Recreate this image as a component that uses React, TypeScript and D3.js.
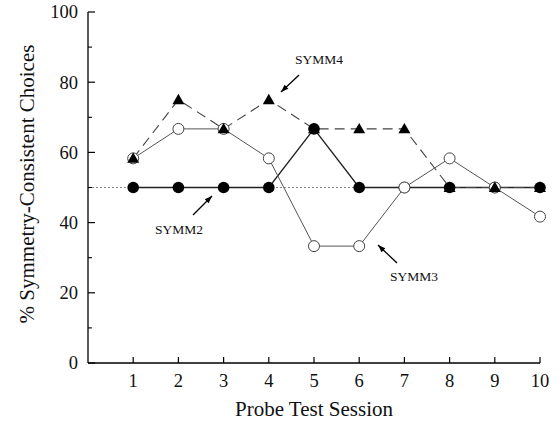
import React from "react";
import * as d3 from "d3";

const sessions = [1, 2, 3, 4, 5, 6, 7, 8, 9, 10];
const symm2 = [50, 50, 50, 50, 66.7, 50, 50, 50, 50, 50];
const symm3 = [58.3, 66.7, 66.7, 58.3, 33.3, 33.3, 50, 58.3, 50, 41.7];
const symm4 = [58.3, 75, 66.7, 75, 66.7, 66.7, 66.7, 50, 50, 50];
const yTicks = [0, 20, 40, 60, 80, 100];
const yMinorTicks = [10, 30, 50, 70, 90];

const W = 560;
const H = 423;
const FONT = "'Liberation Serif', 'DejaVu Serif', serif";

export default function App() {
  const x = d3.scaleLinear().domain([0, 10]).range([88, 540]);
  const y = d3.scaleLinear().domain([0, 100]).range([363, 12]);

  const line = d3
    .line<number>()
    .x((_, i) => x(sessions[i]))
    .y((d) => y(d));

  const tri = d3.symbol().type(d3.symbolTriangle).size(62)() as string;

  const arrow = (x1: number, y1: number, x2: number, y2: number) => {
    const ang = Math.atan2(y2 - y1, x2 - x1);
    const len = 8;
    const spread = 0.35;
    const ax = x2 - len * Math.cos(ang - spread);
    const ay = y2 - len * Math.sin(ang - spread);
    const bx = x2 - len * Math.cos(ang + spread);
    const by = y2 - len * Math.sin(ang + spread);
    return (
      <g>
        <line x1={x1} y1={y1} x2={x2} y2={y2} stroke="#000" strokeWidth={1.3} />
        <path d={`M${x2},${y2}L${ax},${ay}L${bx},${by}Z`} fill="#000" />
      </g>
    );
  };

  return (
    <svg
      width={W}
      height={H}
      style={{ position: "absolute", left: 0, top: 0, background: "#fff" }}
      fontFamily={FONT}
    >
      {/* chance reference line */}
      <line
        x1={x(0)}
        x2={x(10)}
        y1={y(50)}
        y2={y(50)}
        stroke="#888"
        strokeWidth={1}
        strokeDasharray="2,2"
      />

      {/* axes */}
      <line x1={x(0)} x2={x(0)} y1={y(0)} y2={y(100)} stroke="#000" strokeWidth={1.3} />
      <line x1={x(0)} x2={x(10)} y1={y(0)} y2={y(0)} stroke="#000" strokeWidth={1.3} />
      {yTicks.map((t) => (
        <g key={`yt${t}`}>
          <line x1={x(0)} x2={x(0) + 7} y1={y(t)} y2={y(t)} stroke="#000" strokeWidth={1.2} />
          <text
            x={x(0) - 10}
            y={y(t)}
            dy="0.35em"
            textAnchor="end"
            fontSize={18.5}
            fill="#111"
          >
            {t}
          </text>
        </g>
      ))}
      {yMinorTicks.map((t) => (
        <line
          key={`ym${t}`}
          x1={x(0)}
          x2={x(0) + 4}
          y1={y(t)}
          y2={y(t)}
          stroke="#000"
          strokeWidth={1.1}
        />
      ))}
      {sessions.map((s) => (
        <g key={`xt${s}`}>
          <line x1={x(s)} x2={x(s)} y1={y(0)} y2={y(0) - 6} stroke="#000" strokeWidth={1.2} />
          <text x={x(s)} y={387} textAnchor="middle" fontSize={18.5} fill="#111">
            {s}
          </text>
        </g>
      ))}

      <text x={314} y={416} textAnchor="middle" fontSize={21} fill="#111">
        Probe Test Session
      </text>
      <text
        transform={`translate(34,${184}) rotate(-90)`}
        textAnchor="middle"
        fontSize={21}
        fill="#111"
      >
        % Symmetry-Consistent Choices
      </text>

      {/* series lines */}
      <path d={line(symm2) ?? ""} fill="none" stroke="#222" strokeWidth={1.3} />
      <path d={line(symm3) ?? ""} fill="none" stroke="#555" strokeWidth={1} />
      <path
        d={line(symm4) ?? ""}
        fill="none"
        stroke="#444"
        strokeWidth={1.1}
        strokeDasharray="10,6"
      />

      {/* markers */}
      {symm2.map((v, i) => (
        <circle key={`c2${i}`} cx={x(sessions[i])} cy={y(v)} r={5.8} fill="#000" />
      ))}
      {symm3.map((v, i) => (
        <circle
          key={`c3${i}`}
          cx={x(sessions[i])}
          cy={y(v)}
          r={5.5}
          fill="#fff"
          stroke="#444"
          strokeWidth={1}
        />
      ))}
      {symm4.map((v, i) => (
        <path
          key={`t4${i}`}
          d={tri}
          transform={`translate(${x(sessions[i])},${y(v) + 1})`}
          fill="#000"
        />
      ))}

      {/* series annotations */}
      <text x={319} y={64} textAnchor="middle" fontSize={13.5} fill="#111">
        SYMM4
      </text>
      {arrow(299, 75, 281, 92)}
      <text x={179} y={234} textAnchor="middle" fontSize={13.5} fill="#111">
        SYMM2
      </text>
      {arrow(193, 215, 212, 196)}
      <text x={414} y={281} textAnchor="middle" fontSize={13.5} fill="#111">
        SYMM3
      </text>
      {arrow(397, 263, 378, 245)}
    </svg>
  );
}
